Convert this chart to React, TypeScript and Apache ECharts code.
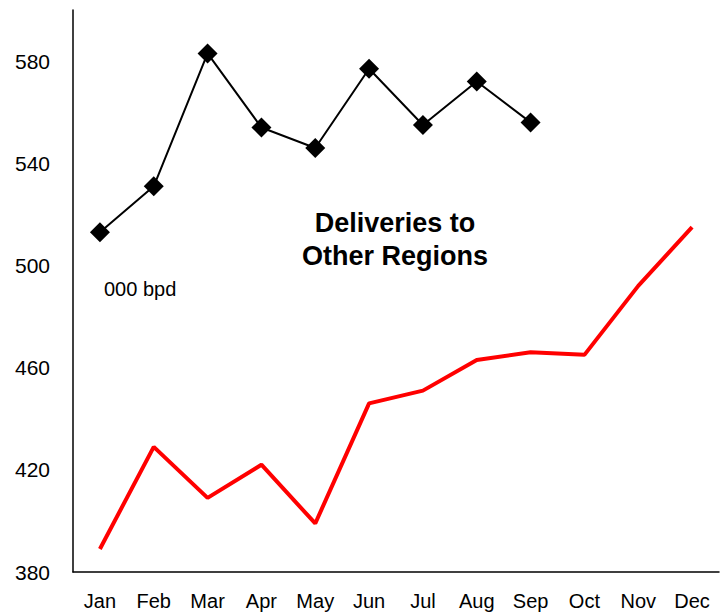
import { useEffect, useRef } from 'react';
import * as echarts from 'echarts';

const months = ['Jan', 'Feb', 'Mar', 'Apr', 'May', 'Jun', 'Jul', 'Aug', 'Sep', 'Oct', 'Nov', 'Dec'];
const currentYear = [513, 531, 583, 554, 546, 577, 555, 572, 556];
const previousYear = [389, 429, 409, 422, 399, 446, 451, 463, 466, 465, 492, 515];

export default function App() {
  const chartRef = useRef<HTMLDivElement>(null);

  useEffect(() => {
    if (!chartRef.current) return;
    const chart = echarts.init(chartRef.current, null, { renderer: 'svg' });

    const option: echarts.EChartsOption = {
      animation: false,
      textStyle: { fontFamily: 'Liberation Sans, Arial, sans-serif' },
      grid: { left: 73, right: 6, top: 10, bottom: 41 },
      xAxis: {
        type: 'category',
        data: months,
        boundaryGap: true,
        axisLine: { show: true, lineStyle: { color: '#000', width: 1.5 } },
        axisTick: { show: false },
        axisLabel: { color: '#000', fontSize: 20, margin: 19 },
      },
      yAxis: {
        type: 'value',
        min: 380,
        max: 600,
        interval: 40,
        splitLine: { show: false },
        axisLine: { show: true, lineStyle: { color: '#000', width: 1.5 } },
        axisTick: { show: false },
        axisLabel: {
          color: '#000',
          fontSize: 21,
          margin: 23,
          formatter: (v: number) => (v === 600 ? '' : String(v)),
        },
      },
      graphic: [
        {
          type: 'text',
          x: 395,
          y: 206,
          style: {
            text: 'Deliveries to\nOther Regions',
            font: 'bold 27px Liberation Sans, Arial, sans-serif',
            fill: '#000',
            align: 'center',
            lineHeight: 33,
          },
        },
        {
          type: 'text',
          x: 104,
          y: 279,
          style: { text: '000 bpd', font: '20px Liberation Sans, Arial, sans-serif', fill: '#000' },
        },
      ],
      series: [
        {
          type: 'line',
          data: previousYear,
          symbol: 'none',
          lineStyle: { color: '#ff0000', width: 4 },
          z: 2,
        },
        {
          type: 'line',
          data: currentYear,
          symbol: 'diamond',
          symbolSize: 20,
          itemStyle: { color: '#000' },
          lineStyle: { color: '#000', width: 2 },
          z: 3,
        },
      ],
    };

    chart.setOption(option);
    return () => chart.dispose();
  }, []);

  return (
    <div ref={chartRef} style={{ position: 'absolute', left: 0, top: 0, width: 725, height: 613 }} />
  );
}
